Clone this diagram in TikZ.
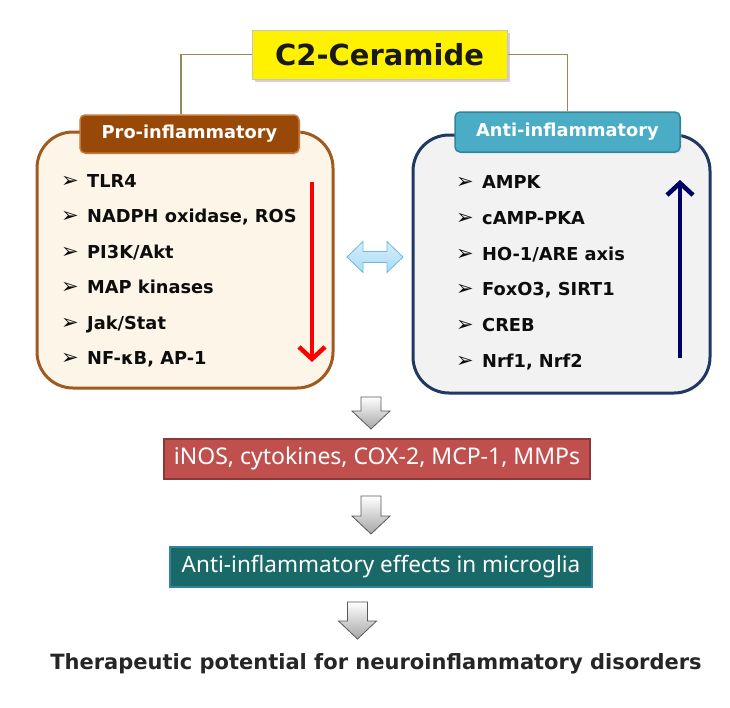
\documentclass[tikz,border=0pt]{standalone}
\usepackage{fontspec}
\setmainfont{DejaVu Sans}
\newfontfamily\boxfont{Noto Sans}
\usetikzlibrary{arrows.meta, positioning, shadows}

\definecolor{proborder}{RGB}{160,90,30}
\definecolor{profill}{RGB}{253,245,232}
\definecolor{protag}{RGB}{152,72,7}
\definecolor{protagline}{RGB}{196,120,60}
\definecolor{antiborder}{RGB}{31,56,100}
\definecolor{antifill}{RGB}{242,242,242}
\definecolor{antitag}{RGB}{75,172,198}
\definecolor{antitagline}{RGB}{49,133,155}
\definecolor{linkline}{RGB}{148,138,84}
\definecolor{mediatorfill}{RGB}{192,80,77}
\definecolor{mediatorline}{RGB}{140,56,54}
\definecolor{effectfill}{RGB}{25,105,105}
\definecolor{effectline}{RGB}{49,132,155}
\definecolor{arrownavy}{RGB}{0,0,102}
\definecolor{twowayfill}{RGB}{170,220,245}
\definecolor{twowayline}{RGB}{110,185,220}

\newcommand\bullmark{\makebox[26pt][l]{\fontsize{21}{21}\selectfont\mdseries ➢}}

\begin{document}
\begin{tikzpicture}[x=1pt, y=-1pt,
    title box/.style={draw=gray!45, fill=yellow, line width=1pt,
        minimum width=255, minimum height=49, inner sep=0,
        font=\fontsize{29}{29}\selectfont\bfseries, text=black!90,
        drop shadow={shadow xshift=3pt, shadow yshift=-3pt, fill=violet!30!gray!60}},
    group box/.style={rounded corners=36pt, line width=3pt, inner sep=0},
    tag/.style={rounded corners=5pt, line width=1.5pt, inner sep=0, text=white,
        font=\fontsize{17.8}{17.8}\selectfont\bfseries,
        drop shadow={shadow xshift=1.5pt, shadow yshift=-1.5pt, fill=gray!40}},
    item/.style={anchor=base west, inner sep=0,
        font=\fontsize{17.8}{17.8}\selectfont\bfseries, text=black!95},
    link/.style={draw=linkline, line width=1.5pt},
    trend/.style={line width=4.5pt, -{Straight Barb[length=12pt, width=26pt]}},
    result box/.style={line width=1.5pt, inner sep=0, text=white,
        minimum height=40, font=\boxfont\fontsize{23}{23}\selectfont},
    down block/.pic={
        \shade[top color=white, bottom color=gray!70, draw=black!65, line width=0.8pt]
            (-10,0) -- (10,0) -- (10,#1-18) -- (19,#1-18) -- (0,#1)
            -- (-19,#1-18) -- (-10,#1-18) -- cycle;
    },
    two way/.pic={
        \shade[top color=twowayfill!50, bottom color=twowayfill, draw=twowayline, line width=0.8pt]
            (-28,0) -- (-12,-15.5) -- (-12,-5.5) -- (12,-5.5) -- (12,-15.5) -- (28,0)
            -- (12,15.5) -- (12,5.5) -- (-12,5.5) -- (-12,15.5) -- cycle;
    }]
    \useasboundingbox[fill=white] (0,0) rectangle (730,707);

    % top compound
    \node[title box] (c2) at (379.5,54.5) {C2-Ceramide};

    % the two groups
    \node[group box, draw=proborder, fill=profill, minimum width=296, minimum height=256] (probox) at (185,260) {};
    \node[group box, draw=antiborder, fill=antifill, minimum width=297, minimum height=258] (antibox) at (561.5,264) {};
    \node[tag, draw=protagline, fill=protag, minimum width=219, minimum height=38] (protag) at (189.5,134) {Pro-inflammatory};
    \node[tag, draw=antitagline, fill=antitag, minimum width=225, minimum height=40] (antitag) at (567.5,132) {Anti-inflammatory};

    \draw[link] (c2.west) -| ([xshift=-8.5pt]protag.north);
    \draw[link] (c2.east) -| (antitag.north);

    % lists
    \foreach \txt [count=\i from 0] in {TLR4, {NADPH oxidase, ROS}, PI3K/Akt, MAP kinases, Jak/Stat, {NF-κB, AP-1}}
        \node[item] (pro\i) at (61,187.4+35.4*\i) {\bullmark\txt};
    \foreach \txt [count=\i from 0] in {AMPK, cAMP-PKA, HO-1/ARE axis, {FoxO3, SIRT1}, CREB, {Nrf1, Nrf2}}
        \node[item] (anti\i) at (456,188.4+35.8*\i) {\bullmark\txt};

    % up and down trends
    \coordinate (downtop) at (312,182);
    \coordinate (downend) at (312,362);
    \coordinate (upbottom) at (680,358);
    \coordinate (uptop) at (680,180);
    \draw[trend, red] (downtop) -- (downend);
    \draw[trend, arrownavy] (upbottom) -- (uptop);

    \pic at (375,257) {two way};

    % outcome chain
    \pic at (371,397) {down block=32};
    \node[result box, draw=mediatorline, fill=mediatorfill, minimum width=426] (mediators) at (377,459) {iNOS, cytokines, COX-2, MCP-1, MMPs};
    \pic at (371,496) {down block=38};
    \node[result box, draw=effectline, fill=effectfill, minimum width=422] (effects) at (381,567) {\fontsize{22.5}{22.5}\selectfont Anti-inflammatory effects in microglia};
    \pic at (357.5,602) {down block=37};
    \node[font=\fontsize{21}{21}\selectfont\bfseries, text=black!85] (outlook) at (376,664) {Therapeutic potential for neuroinflammatory disorders};
\end{tikzpicture}
\end{document}
